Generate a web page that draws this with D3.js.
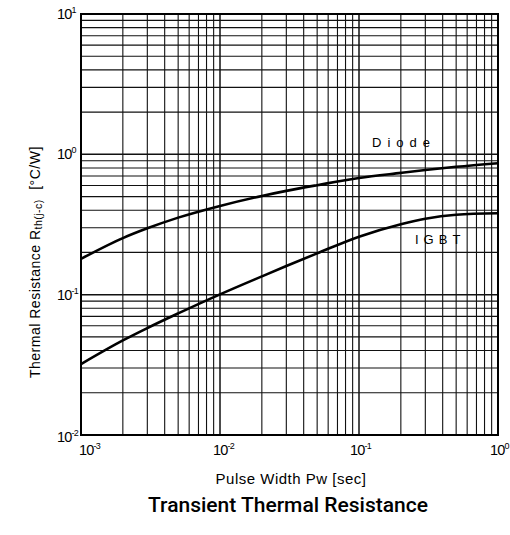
<!DOCTYPE html>
<html>
<head>
  <meta charset="utf-8">
  <title>Transient Thermal Resistance</title>
  <script src="https://cdnjs.cloudflare.com/ajax/libs/d3/7.8.5/d3.min.js"></script>
  <style>
    body { margin: 0; background: #fff; }
    svg { font-family: "Liberation Sans", Arial, sans-serif; }
  </style>
</head>
<body>
  <div id="chart"></div>
  <script>
    // values
    const pulseWidth = [0.001, 0.002, 0.003, 0.005, 0.01, 0.02, 0.03, 0.05, 0.1, 0.2, 0.3, 0.5, 1];
    const diode = [0.18, 0.253, 0.297, 0.354, 0.429, 0.505, 0.549, 0.603, 0.679, 0.738, 0.773, 0.815, 0.865];
    const igbt = [0.032, 0.0472, 0.0578, 0.0735, 0.1005, 0.135, 0.160, 0.197, 0.259, 0.318, 0.348, 0.371, 0.38];
    const xTickExp = ['-3', '-2', '-1', '0'];
    const yTickExp = ['-2', '-1', '0', '1'];
    const seriesNames = ['Diode', 'IGBT'];

    const width = 510, height = 535;
    const plotL = 81, plotR = 498, plotT = 14, plotB = 435;

    const x = d3.scaleLog().domain([1e-3, 1]).range([plotL, plotR]);
    const y = d3.scaleLog().domain([1e-2, 10]).range([plotB, plotT]);

    const svg = d3.select('#chart')
      .append('svg')
        .attr('width', width)
        .attr('height', height);

    // grid: every 1..9 of each decade
    const isDecade = d => Math.abs(Math.log10(d) - Math.round(Math.log10(d))) < 1e-9;
    const grid = svg.append('g').attr('class', 'grid');
    grid.selectAll('line.v')
      .data(x.ticks())
      .join('line')
        .attr('class', 'v')
        .attr('x1', d => x(d)).attr('x2', d => x(d))
        .attr('y1', plotT).attr('y2', plotB)
        .attr('stroke', '#111')
        .attr('stroke-width', d => isDecade(d) ? 1.5 : 1.1);
    grid.selectAll('line.h')
      .data(y.ticks())
      .join('line')
        .attr('class', 'h')
        .attr('y1', d => y(d)).attr('y2', d => y(d))
        .attr('x1', plotL).attr('x2', plotR)
        .attr('stroke', '#111')
        .attr('stroke-width', d => isDecade(d) ? 1.5 : 1.1);

    svg.append('rect')
      .attr('x', plotL).attr('y', plotT)
      .attr('width', plotR - plotL).attr('height', plotB - plotT)
      .attr('fill', 'none')
      .attr('stroke', '#000')
      .attr('stroke-width', 2);

    // curves
    const line = d3.line()
      .x((d, i) => x(pulseWidth[i]))
      .y(d => y(d))
      .curve(d3.curveMonotoneX);

    svg.selectAll('path.curve')
      .data([diode, igbt])
      .join('path')
        .attr('class', 'curve')
        .attr('d', line)
        .attr('fill', 'none')
        .attr('stroke', '#000')
        .attr('stroke-width', 2.6);

    // curve labels
    svg.append('text')
      .attr('x', 372).attr('y', 147)
      .attr('font-size', 13)
      .attr('letter-spacing', 6)
      .text(seriesNames[0]);
    svg.append('text')
      .attr('x', 415).attr('y', 244)
      .attr('font-size', 13)
      .attr('letter-spacing', 5)
      .text(seriesNames[1]);

    // x tick labels (decades)
    const tickFont = '"Liberation Sans Narrow", "Liberation Sans", Arial, sans-serif';
    const xDecades = [1e-3, 1e-2, 1e-1, 1];
    const xShift = [-2, -7, -9, -8];
    const xl = svg.selectAll('text.xt')
      .data(xDecades)
      .join('text')
        .attr('class', 'xt')
        .attr('x', (d, i) => x(d) + xShift[i])
        .attr('y', 455)
        .attr('font-family', tickFont)
        .attr('font-size', 14.5)
        .attr('letter-spacing', -0.8);
    xl.append('tspan').text('10');
    xl.append('tspan')
      .attr('font-size', 9)
      .attr('dy', -6)
      .text((d, i) => xTickExp[i]);

    // y tick labels (decades)
    const yDecades = [1e-2, 1e-1, 1, 10];
    const yl = svg.selectAll('text.yt')
      .data(yDecades)
      .join('text')
        .attr('class', 'yt')
        .attr('x', 57)
        .attr('y', (d, i) => y(d) + (i === 0 ? 7 : 5))
        .attr('font-family', tickFont)
        .attr('font-size', 14.5)
        .attr('letter-spacing', -0.8);
    yl.append('tspan').text('10');
    yl.append('tspan')
      .attr('font-size', 9)
      .attr('dy', -6)
      .text((d, i) => yTickExp[i]);

    // axis titles
    svg.append('text')
      .attr('x', 291)
      .attr('y', 484)
      .attr('text-anchor', 'middle')
      .attr('font-size', 15)
      .attr('letter-spacing', 0.5)
      .text('Pulse Width Pw [sec]');

    const yt = svg.append('text')
      .attr('transform', 'translate(40, 378) rotate(-90)')
      .attr('text-anchor', 'start')
      .attr('font-size', 14)
      .attr('letter-spacing', 0.5);
    yt.append('tspan').text('Thermal Resistance R');
    yt.append('tspan').attr('font-size', 10.5).attr('dy', 2).text('th(j-c)');
    yt.append('tspan').attr('dy', -2).attr('dx', 5).text(' [°C/W]');

    // chart title
    svg.append('text')
      .attr('x', 288)
      .attr('y', 512)
      .attr('text-anchor', 'middle')
      .attr('font-family', 'Roboto, "Liberation Sans", sans-serif')
      .attr('font-weight', 500)
      .attr('font-size', 21)
      .text('Transient Thermal Resistance');
  </script>
</body>
</html>
